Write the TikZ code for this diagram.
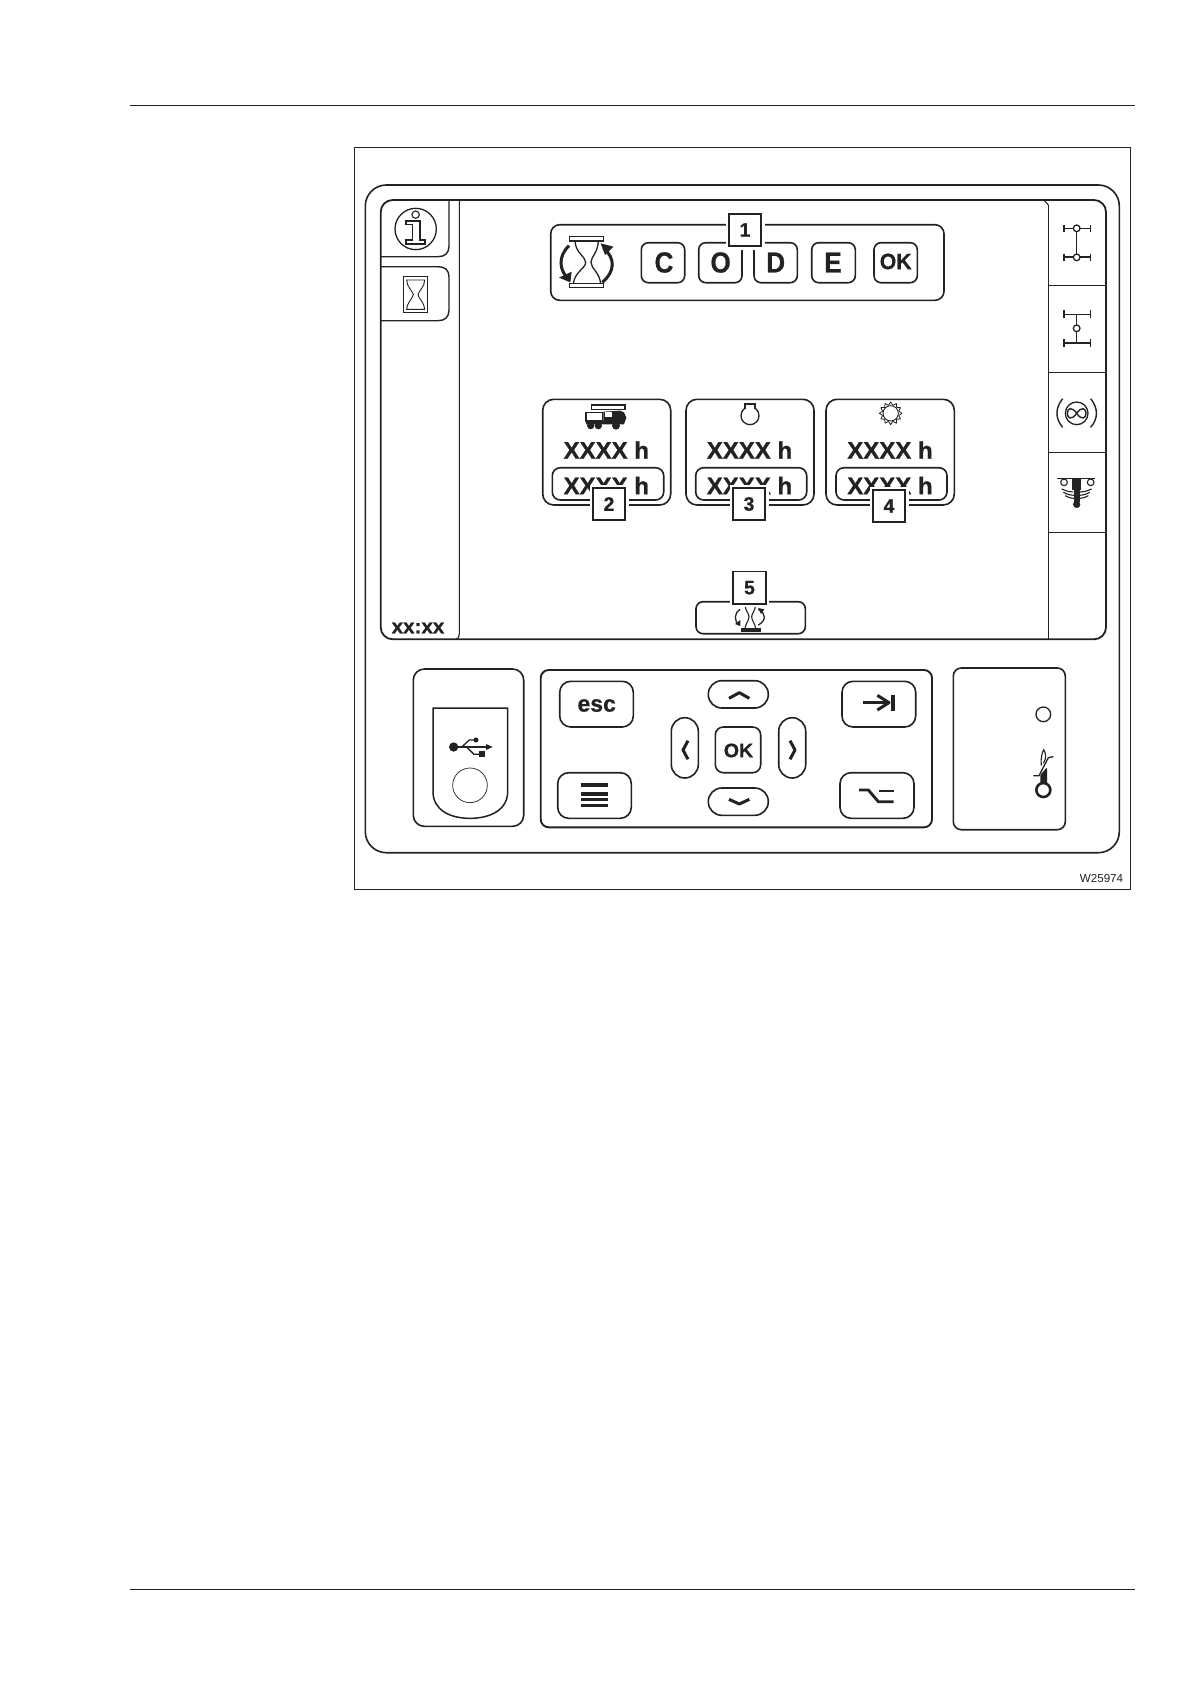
\documentclass[tikz,border=0pt]{standalone}
\usepackage{graphicx}
\usepackage{fontspec}
\setmainfont{Liberation Sans}[BoldFeatures={FakeBold=0.7}]
\definecolor{ink}{HTML}{222222}
\newcommand{\fsz}[1]{\fontsize{#1}{#1}\selectfont\bfseries}
\tikzset{
  ln/.style={draw=ink,line width=1.6pt},
  thinln/.style={draw=ink,line width=1.1pt},
  tag/.style={draw=ink,line width=1.7pt,fill=white,minimum size=32.5pt,inner sep=0pt,text=ink,font=\fsz{19.5},
     preaction={draw=white,line width=6.5pt}},
  label/.style={inner sep=0pt,text=ink,anchor=center},
  zA/.style={shift={(350,140)},scale=1/3},
  zB/.style={shift={(770,140)},scale=1/3},
  zC/.style={shift={(520,380)},scale=1/3},
  zD/.style={shift={(350,620)},scale=1/3},
  zE/.style={shift={(740,620)},scale=1/3},
  zF/.style={shift={(1040,200)},scale=1/3},
  zG/.style={shift={(540,395)},scale=1/3},
  zH/.style={shift={(1015,735)},scale=1/3},
  zI/.style={shift={(555,225)},scale=1/3},
  zJ/.style={shift={(725,600)},scale=1/3},
  zK/.style={shift={(1050,465)},scale=1/3},
  zL/.style={shift={(865,395)},scale=1/3},
}
\begin{document}
\begin{tikzpicture}[x=1pt,y=-1pt]
\useasboundingbox (0,0) rectangle (1190,1684);
\fill[white] (0,0) rectangle (1190,1684);
% page rules
\draw[thinln] (130,105.5) -- (1135,105.5);
\draw[thinln] (130,1589.5) -- (1135,1589.5);
% frame
\draw[draw=ink,line width=1.2pt] (354.7,147.3) rectangle (1130.3,889.3);
% housing
\draw[ln,rounded corners=21] (365.3,185) rectangle (1119.3,852.7);
% screen
\draw[ln,line width=1.8pt,rounded corners=12] (380.7,200) rectangle (1106,639.3);
\draw[thinln] (459.3,200) -- (459.3,634) .. controls (459.3,637) and (458,639) .. (456,639.3);
\draw[thinln] (1048.3,205) -- (1048.3,639.3);
\draw[thinln] (1044,200) -- (1048.3,205);
\draw[thinln] (1048.3,285.3) -- (1106,285.3);
\draw[thinln] (1048.3,372.3) -- (1106,372.3);
\draw[thinln] (1048.3,452.3) -- (1106,452.3);
\draw[thinln] (1048.3,532.7) -- (1106,532.7);
% left tabs
\draw[ln,line width=1.4pt] (449,200) -- (449,246) .. controls (449,253) and (445,256.7) .. (438,256.7) -- (380.7,256.7);
\draw[ln,line width=1.4pt] (380.7,266.7) -- (438,266.7) .. controls (445,266.7) and (449,270) .. (449,277) -- (449,310) .. controls (449,317) and (445,320.7) .. (438,320.7) -- (380.7,320.7);
% info icon
\begin{scope}[zA]
\draw[ln,line width=1.3pt] (197,267) circle (62);
\draw[thinln] (197,224) circle (11);
\draw[thinln] (168,243) -- (210,243) -- (210,300) -- (225,300) -- (225,312) -- (168,312) -- (168,300) -- (187,300) -- (187,254) -- (168,254) -- cycle;
% tab hourglass
\draw[ln,line width=1.3pt] (160,410) rectangle (232,517);
\draw[draw=ink,line width=.9pt] (170,420) -- (224,420) .. controls (224,440) and (208,450) .. (204,464) .. controls (208,478) and (224,490) .. (224,508) -- (170,508) .. controls (170,490) and (186,478) .. (190,464) .. controls (186,450) and (170,440) .. (170,420) -- cycle;
\end{scope}
% big hourglass
\begin{scope}[zI]
\draw[ln,line width=1.4pt] (43,35) rectangle (145,48);
\draw[ln,line width=1.4pt] (43,175) rectangle (145,187);
\draw[ln,line width=1.3pt] (60,48) .. controls (62,85) and (92,95) .. (92,112) .. controls (92,130) and (60,140) .. (55,175);
\draw[ln,line width=1.3pt] (130,48) .. controls (128,85) and (108,95) .. (108,112) .. controls (108,130) and (132,140) .. (137,175);
\draw[ink,line width=3pt] (42,62) .. controls (8,95) and (12,135) .. (42,165);
\draw[ink,line width=3pt] (146,70) .. controls (182,100) and (180,140) .. (142,172);
\fill[ink] (12,158) -- (50,140) -- (46,172) -- cycle;
\fill[ink] (175,65) -- (137,55) -- (150,90) -- cycle;
\end{scope}
% code box
\draw[ln,rounded corners=9] (550.7,224.7) rectangle (944,300.3);
\draw[ln,rounded corners=7] (641.3,242.7) rectangle (684.7,282.7);
\draw[ln,rounded corners=7] (698.7,242.7) rectangle (742,282.7);
\draw[ln,rounded corners=7] (754,242.7) rectangle (797.3,282.7);
\draw[ln,rounded corners=7] (811.7,242.7) rectangle (855.3,282.7);
\draw[ln,rounded corners=7] (874,242.7) rectangle (917.3,282.7);
\node[label,font=\fsz{29}] (lc) at (664,262.5) {\scalebox{.9}[1]{C}};
\node[label,font=\fsz{29}] (lo) at (720.6,262.5) {\scalebox{.9}[1]{O}};
\node[label,font=\fsz{29}] (ld) at (775.7,262.5) {\scalebox{.9}[1]{D}};
\node[label,font=\fsz{29}] (le) at (833,262.5) {\scalebox{.9}[1]{E}};
\node[label,font=\fsz{22.3}] (lk) at (895.7,261.5) {\scalebox{.95}[1]{OK}};
% cards
\draw[ln,rounded corners=11] (542.7,399.3) rectangle (670.7,505);
\draw[ln,rounded corners=11] (686,399.3) rectangle (814,505);
\draw[ln,rounded corners=11] (826,399.3) rectangle (954.3,505);
\draw[ln,rounded corners=8] (552.3,467.7) rectangle (663.7,500);
\draw[ln,rounded corners=8] (695.7,467.7) rectangle (806.7,500);
\draw[ln,rounded corners=8] (836,467.7) rectangle (947,500);
\node[label,font=\fsz{24}] (t2a) at (606.3,450) {XXXX h};
\node[label,font=\fsz{24}] (t3a) at (749.5,450) {XXXX h};
\node[label,font=\fsz{24}] (t4a) at (890,450) {XXXX h};
\node[label,font=\fsz{24}] (t2b) at (606.3,485.5) {XXXX h};
\node[label,font=\fsz{24}] (t3b) at (749.5,485.5) {XXXX h};
\node[label,font=\fsz{24}] (t4b) at (890,485.5) {XXXX h};
% truck
\begin{scope}[zG]
\draw[thinln,fill=white] (155,30) rectangle (255,44);
\fill[ink] (190,50) -- (240,47) -- (252,52) -- (259,68) -- (252,88) -- (138,88) -- (138,78) -- (190,78) -- cycle;
\draw[thinln,fill=white] (138,52) rectangle (188,78);
\fill[white] (194,52) rectangle (216,66);
\fill[ink] (152,92) circle (11);
\fill[ink] (175,92) circle (11);
\fill[ink] (228,92) circle (12);
\end{scope}
% engine
\begin{scope}[zC]
\draw[ln,line width=1.3pt] (690,107) circle (27);
\fill[white] (677,74) rectangle (703,90);
\draw[ln,line width=1.3pt] (675,87) -- (675,72) -- (705,72) -- (705,87);
\end{scope}
% gear
\begin{scope}[zL]
\begin{scope}[shift={(77,55)}]
\foreach \a in {0,30,...,330}{
  \draw[draw=ink,line width=.8pt,line join=round] (\a-15:25) -- (\a:34) -- (\a+15:25);
}
\draw[draw=ink,line width=.9pt] (0,0) circle (23);
\end{scope}
\end{scope}
% button 5
\draw[ln,rounded corners=7] (696,601.7) rectangle (805.3,633.7);
\begin{scope}[zJ]
\draw[thinln] (60,15) .. controls (62,35) and (72,40) .. (72,50) .. controls (72,62) and (62,70) .. (60,85);
\draw[thinln] (92,15) .. controls (90,35) and (80,40) .. (80,50) .. controls (80,62) and (90,70) .. (92,85);
\draw[ln,line width=1.3pt] (45,28) .. controls (28,38) and (26,62) .. (42,75);
\draw[ln,line width=1.3pt] (100,28) .. controls (124,40) and (124,62) .. (100,75);
\fill[ink] (30,72) -- (46,60) -- (46,78) -- cycle;
\fill[ink] (118,28) -- (100,24) -- (108,42) -- cycle;
\fill[ink] (48,85) rectangle (108,95);
\end{scope}
% clock
\node[label,font=\fsz{20}] (clk) at (418,628) {\scalebox{1.03}[1]{xx:xx}};
% right icons
\begin{scope}[zF]
\draw[thinln] (110,85) -- (110,172);
\draw[ln,line width=1.3pt] (72,85) -- (152,85);
\draw[ln,line width=2pt] (72,75) -- (72,97);
\draw[thinln] (152,75) -- (152,97);
\draw[ln,line width=1.8pt] (72,172) -- (152,172);
\draw[ln,line width=2pt] (72,161) -- (72,183);
\draw[thinln] (152,161) -- (152,183);
\draw[ln,line width=1.3pt,fill=white] (110,85) circle (10);
\draw[ln,line width=1.3pt,fill=white] (110,172) circle (10);
\draw[thinln] (110,343) -- (110,430);
\draw[ln,line width=1.3pt] (72,343) -- (152,343);
\draw[ln,line width=1.6pt] (72,331) -- (72,355);
\draw[thinln] (152,331) -- (152,355);
\draw[ln,line width=2.2pt] (72,430) -- (152,430);
\draw[ln,line width=1.6pt] (72,418) -- (72,442);
\draw[thinln] (152,418) -- (152,442);
\draw[ln,line width=1.3pt,fill=white] (110,385) circle (10);
\draw[ln,line width=1.3pt] (110,640) circle (34);
\draw[ln,line width=1.4pt] (110,640) .. controls (95,618) and (82,625) .. (82,640) .. controls (82,655) and (95,662) .. (110,640) .. controls (125,618) and (138,625) .. (138,640) .. controls (138,655) and (125,662) .. (110,640);
\draw[ln,line width=1.4pt] (68,596) .. controls (45,625) and (45,655) .. (68,682);
\draw[ln,line width=1.4pt] (152,596) .. controls (175,625) and (175,655) .. (152,682);
\end{scope}
\begin{scope}[zK]
\draw[thinln] (22,40) -- (135,40);
\draw[thinln,fill=white] (42,52) circle (10);
\draw[thinln,fill=white] (122,52) circle (10);
\draw[thinln] (35,72) .. controls (45,77) and (55,80) .. (70,81);
\draw[thinln] (40,82) .. controls (48,87) and (58,90) .. (72,91);
\draw[thinln] (45,92) .. controls (52,97) and (60,99) .. (72,100);
\draw[thinln] (125,72) .. controls (115,77) and (105,80) .. (90,81);
\draw[thinln] (120,82) .. controls (112,87) and (102,90) .. (88,91);
\draw[thinln] (115,92) .. controls (108,97) and (100,99) .. (88,100);
\fill[ink] (67,40) rectangle (94,76);
\fill[ink] (71,76) rectangle (90,112);
\fill[ink] (80,118) circle (11);
\end{scope}
% usb box
\draw[ln,rounded corners=11] (413.3,669) rectangle (523.7,826.3);
\begin{scope}[zD]
\draw[ln,line width=1.5pt] (249,264) -- (473,264) -- (473,515) .. controls (473,570) and (420,595) .. (360,595) .. controls (300,595) and (249,570) .. (249,515) -- cycle;
\draw[draw=ink,line width=.7pt] (360,496) circle (52);
\fill[ink] (311,381) circle (14);
\draw[ln,line width=1.3pt] (311,381) -- (418,381);
\fill[ink] (428,381) -- (408,372) -- (408,390) -- cycle;
\draw[ln,line width=1.3pt] (335,381) -- (358,360) -- (378,360);
\fill[ink] (378,360) circle (7.5);
\draw[ln,line width=1.3pt] (350,381) -- (372,403) -- (390,403);
\fill[ink] (386,394) rectangle (404,412);
\end{scope}
% keypad
\draw[ln,line width=1.9pt,rounded corners=8] (540.7,670) rectangle (932,827.3);
\draw[ln,rounded corners=11] (559.7,681.3) rectangle (633.3,727);
\draw[ln,rounded corners=11] (557.7,772.7) rectangle (631.3,818.3);
\draw[ln,rounded corners=11] (842,681.3) rectangle (915.7,727);
\draw[ln,rounded corners=11] (840,772.7) rectangle (914,818.3);
\draw[ln,rounded corners=13.5] (708.3,680.7) rectangle (768.3,708);
\draw[ln,rounded corners=13.5] (708.3,788) rectangle (768.3,815.3);
\draw[ln,rounded corners=13.5] (671.3,717.7) rectangle (698.3,778);
\draw[ln,rounded corners=13.5] (778.7,717.7) rectangle (805.7,778);
\draw[ln,rounded corners=8] (715.3,727) rectangle (760.7,772.7);
\node[label,font=\fsz{23}] (esc) at (596.7,705.5) {esc};
\node[label,font=\fsz{19.5}] (ok) at (738.5,750.5) {OK};
% key symbols
\begin{scope}[zD]
\fill[ink] (693,490) rectangle (775,501);
\fill[ink] (693,516) rectangle (775,527);
\fill[ink] (693,535) rectangle (775,544);
\fill[ink] (693,552) rectangle (775,561);
\draw[ink,line width=3pt,line join=round] (1137,235) -- (1168,218) -- (1198,235);
\draw[ink,line width=3pt,line join=round] (1137,538) -- (1168,552) -- (1198,538);
\draw[ink,line width=3pt,line join=round] (1014,362) -- (999,390) -- (1014,418);
\end{scope}
\begin{scope}[zE]
\draw[ink,line width=3pt,line join=round] (150,362) -- (165,390) -- (150,418);
\draw[ink,line width=3pt] (368,248) -- (445,248);
\draw[ink,line width=3pt,line join=round] (412,226) -- (447,248) -- (412,270);
\fill[ink] (452,225) rectangle (465,273);
\draw[ink,line width=2.8pt] (357,510) -- (385,510) -- (415,545) -- (461,545);
\draw[ink,line width=2.8pt] (418,513) -- (461,513);
\end{scope}
% right panel
\draw[ln,rounded corners=8] (953.3,668) rectangle (1065.3,829.7);
\begin{scope}[zE]
\draw[ln,line width=1.3pt] (910,283) circle (22);
\end{scope}
\begin{scope}[zH]
\draw[ln,line width=2.6pt] (85,165) circle (21);
\fill[ink] (93,100) -- (96,100) -- (96,147) -- (76,147) -- (76,120) -- cycle;
\draw[thinln,fill=white] (79,92) .. controls (76,70) and (82,52) .. (86,44) .. controls (92,52) and (96,70) .. (85,85);
\draw[ln,line width=1.3pt] (55,122) -- (72,122) -- (100,68) -- (115,65);
\end{scope}
% code
\node[anchor=east,inner sep=0pt,text=ink,font=\fontsize{11.6}{11.6}\selectfont] (wcode) at (1123.3,878.7) {W25974};
% tags
\node[tag] (tag1) at (745,230) {1};
\node[tag] (tag2) at (609,504) {2};
\node[tag] (tag3) at (749,504) {3};
\node[tag] (tag4) at (889,506) {4};
\node[tag] (tag5) at (749.5,587.7) {5};
\end{tikzpicture}
\end{document}
